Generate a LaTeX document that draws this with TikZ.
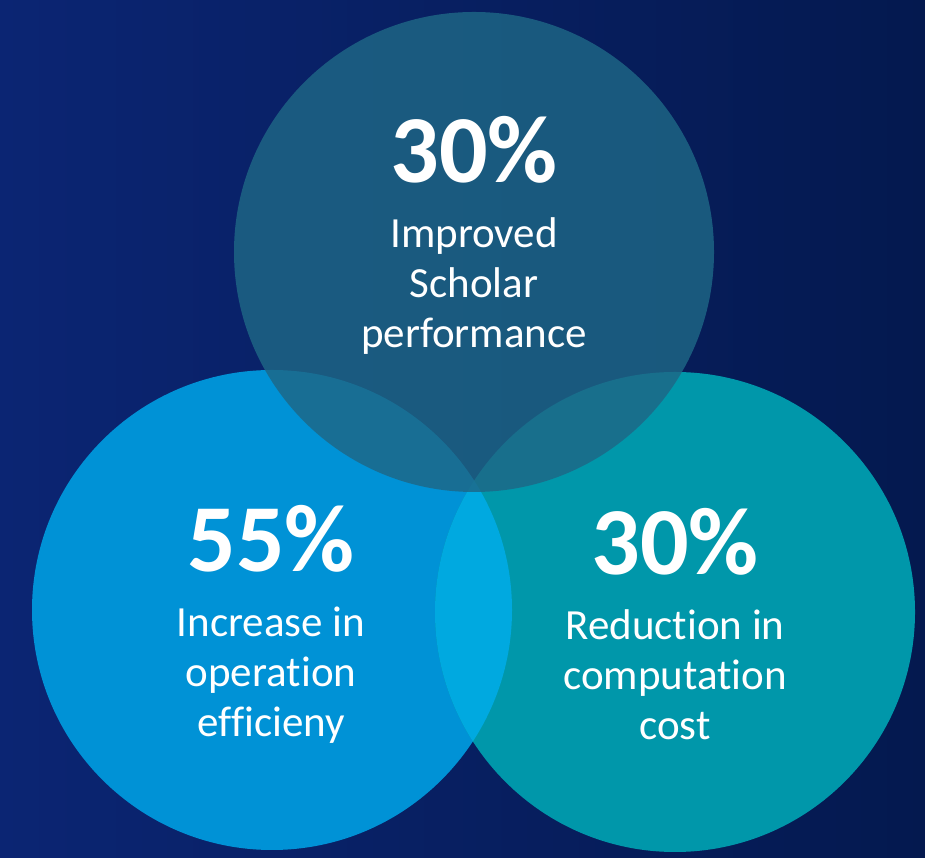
\documentclass[tikz,border=0pt]{standalone}
\usepackage{fontspec}
\setmainfont{Carlito}[Ligatures=NoCommon]
\usetikzlibrary{positioning}
\definecolor{bgleft}{HTML}{0B2573}
\definecolor{bgright}{HTML}{04194F}
\definecolor{ringleft}{HTML}{0092D6}
\definecolor{ringright}{HTML}{0097AA}
\definecolor{ringmid}{HTML}{00A9E0}
\definecolor{ringtop}{HTML}{1E6786}
\begin{document}
\begin{tikzpicture}[x=1pt,y=1pt,
    bignum/.style={font=\fontsize{96}{96}\selectfont\bfseries, text=white, inner sep=0pt},
    caption/.style={font=\fontsize{43}{50}\selectfont, text=white, align=center, inner sep=0pt}]
  \shade[left color=bgleft, right color=bgright] (0,0) rectangle (925,858);
  \useasboundingbox (0,0) rectangle (925,858);
  % circles
  \fill[ringleft] (272,248) circle (240pt);
  \fill[ringright] (675,246) circle (240pt);
  \begin{scope}
    \clip (272,248) circle (240pt);
    \fill[ringmid] (675,246) circle (240pt);
  \end{scope}
  \fill[ringtop, opacity=0.82] (474,606) circle (240pt);
  % texts
  \node[bignum] (topnum) at (474,708) {30\%};
  \node[caption, below=34pt of topnum] (toptext) {Improved\\Scholar\\performance};
  \node[bignum] (leftnum) at (271,319) {55\%};
  \node[caption, below=34pt of leftnum] (lefttext) {Increase in\\operation\\efficieny};
  \node[bignum] (rightnum) at (675,316) {30\%};
  \node[caption, below=34pt of rightnum] (righttext) {Reduction in\\computation\\cost};
\end{tikzpicture}
\end{document}
